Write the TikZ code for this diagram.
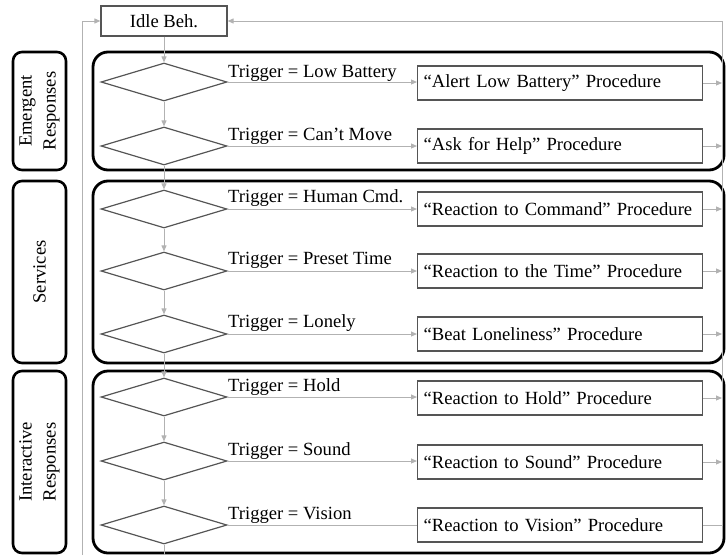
\documentclass[tikz,border=0pt]{standalone}
\usepackage{fontspec}
\setmainfont{Liberation Serif}
\usetikzlibrary{arrows.meta,shapes.geometric}
\definecolor{flowgray}{RGB}{178,178,178}
\definecolor{edgegray}{RGB}{85,85,85}
\begin{document}
\begin{tikzpicture}[x=1pt,y=-1pt,
  txt/.style={font=\fontsize{18.6}{22}\selectfont},
  flow/.style={draw=flowgray, line width=1pt},
  arr/.style={flow, -{Triangle[length=6pt,width=5pt]}},
  decision/.style={diamond, draw=edgegray, line width=1.2pt,
    minimum width=126pt, minimum height=38pt, inner sep=0pt},
  procbox/.style={txt, draw=edgegray, line width=1.2pt, anchor=west,
    text width=273pt, align=left, inner xsep=6pt, inner ysep=0pt,
    minimum height=34pt},
  trig/.style={txt, anchor=base west, inner sep=0pt},
  groupbox/.style={draw=black, line width=2.8pt, rounded corners=15pt,
    minimum width=631pt, inner sep=0pt},
  sidelabel/.style={txt, draw=black, line width=2.6pt, rounded corners=9pt,
    rotate=90, minimum height=53pt, align=center, inner sep=0pt,
    font=\fontsize{18.6}{24}\selectfont}
]
\useasboundingbox (0,0) rectangle (726,555);

% phase groups
\node[groupbox, minimum height=118pt] (gEmer) at (408.5,111) {};
\node[groupbox, minimum height=182pt] (gServ) at (408.5,272) {};
\node[groupbox, minimum height=182pt] (gInter) at (408.5,462) {};

% side labels
\node[sidelabel, minimum width=118pt] (lEmer) at (39.5,111) {Emergent\\Responses};
\node[sidelabel, minimum width=182pt] (lServ) at (39.5,272) {Services};
\node[sidelabel, minimum width=182pt] (lInter) at (39.5,462) {Interactive\\Responses};

% idle state
\node[txt, draw=edgegray, line width=1.2pt, minimum width=126pt,
  minimum height=30pt, inner sep=0pt] (idle) at (164,21) {Idle Beh.};

% decisions
\node[decision] (d1) at (164,82) {};
\node[decision] (d2) at (164,146) {};
\node[decision] (d3) at (164,209) {};
\node[decision] (d4) at (164,271) {};
\node[decision] (d5) at (164,334) {};
\node[decision] (d6) at (164,397) {};
\node[decision] (d7) at (164,461) {};
\node[decision] (d8) at (164,525) {};

% procedures
\node[procbox] (p1) at (417,83) {“Alert Low Battery” Procedure};
\node[procbox] (p2) at (417,146) {“Ask for Help” Procedure};
\node[procbox] (p3) at (417,209) {“Reaction to Command” Procedure};
\node[procbox] (p4) at (417,271) {“Reaction to the Time” Procedure};
\node[procbox] (p5) at (417,334) {“Beat Loneliness” Procedure};
\node[procbox] (p6) at (417,398) {“Reaction to Hold” Procedure};
\node[procbox] (p7) at (417,462) {“Reaction to Sound” Procedure};
\node[procbox] (p8) at (417,525) {“Reaction to Vision” Procedure};

% trigger conditions
\node[trig] (t1) at (228,77) {Trigger = Low Battery};
\node[trig] (t2) at (228,140) {Trigger = Can’t Move};
\node[trig] (t3) at (228,202) {Trigger = Human Cmd.};
\node[trig] (t4) at (228,264) {Trigger = Preset Time};
\node[trig] (t5) at (228,327) {Trigger = Lonely};
\node[trig] (t6) at (228,391) {Trigger = Hold};
\node[trig] (t7) at (228,455) {Trigger = Sound};
\node[trig] (t8) at (228,519) {Trigger = Vision};

% loop coordinates
\coordinate (rt) at (722,21);
\coordinate (rb) at (722,525);
\coordinate (lt) at (82,21);
\coordinate (lb) at (82,555);
\coordinate (cb) at (164,555);

% main chain of checks
\draw[arr] (idle.south) -- (d1.north);
\draw[arr] (d1.south) -- (d2.north);
\draw[arr] (d2.south) -- (d3.north);
\draw[arr] (d3.south) -- (d4.north);
\draw[arr] (d4.south) -- (d5.north);
\draw[arr] (d5.south) -- (d6.north);
\draw[arr] (d6.south) -- (d7.north);
\draw[arr] (d7.south) -- (d8.north);
\draw[flow] (d8.south) -- (cb);

% trigger branches
\draw[arr] (d1.east) -- (d1.east -| p1.west);
\draw[arr] (d2.east) -- (d2.east -| p2.west);
\draw[arr] (d3.east) -- (d3.east -| p3.west);
\draw[arr] (d4.east) -- (d4.east -| p4.west);
\draw[arr] (d5.east) -- (d5.east -| p5.west);
\draw[arr] (d6.east) -- (d6.east -| p6.west);
\draw[arr] (d7.east) -- (d7.east -| p7.west);
\draw[flow] (d8.east) -- (d8.east -| p8.west);

% return paths to idle
\draw[arr] (p1.east) -- (p1.east -| rt);
\draw[arr] (p2.east) -- (p2.east -| rt);
\draw[arr] (p3.east) -- (p3.east -| rt);
\draw[arr] (p4.east) -- (p4.east -| rt);
\draw[arr] (p5.east) -- (p5.east -| rt);
\draw[arr] (p6.east) -- (p6.east -| rt);
\draw[arr] (p7.east) -- (p7.east -| rt);
\draw[arr] (p8.east) -- (rb) -- (rt) -- (idle.east);
\draw[arr] (lb) -- (lt) -- (idle.west);
\end{tikzpicture}
\end{document}
